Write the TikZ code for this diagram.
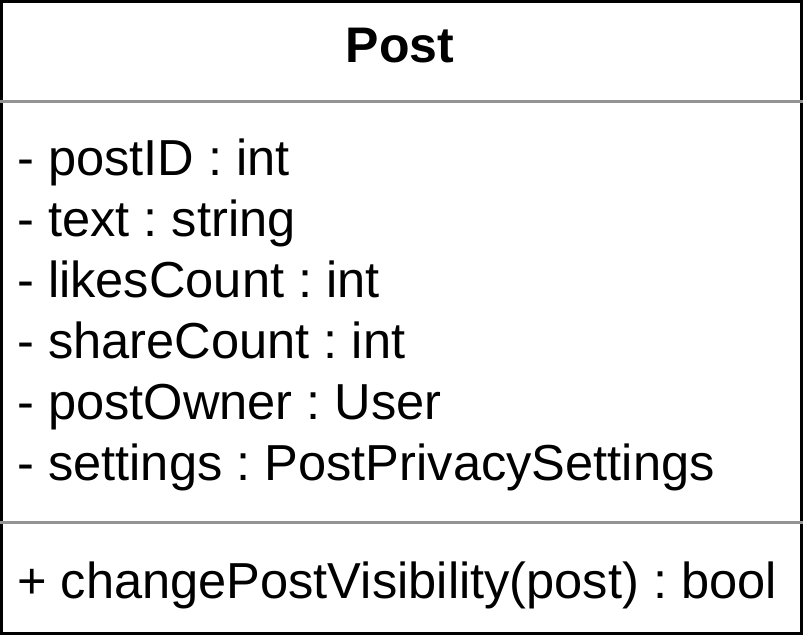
\documentclass[tikz,border=0pt]{standalone}
\usepackage{fontspec}
\setmainfont{Liberation Sans}
\usepackage{tikz}
\usetikzlibrary{positioning}
\frenchspacing

\tikzset{
  classbox/.style={draw=black, line width=3pt},
  divider/.style={draw=black!42, line width=3pt},
  title/.style={anchor=base, inner sep=0pt, font=\fontsize{50}{60}\selectfont\bfseries},
  member/.style={anchor=base west, inner sep=0pt, font=\fontsize{50.6}{60}\selectfont}
}

\begin{document}
\begin{tikzpicture}[x=1pt,y=-1pt]
            \useasboundingbox (0,0) rectangle (803,635);
            \draw[classbox] (1.5,1.5) rectangle (801.5,633.5);
            \coordinate (d1l) at (0,101.5);
            \coordinate (d1r) at (803,101.5);
            \coordinate (d2l) at (0,522.5);
            \coordinate (d2r) at (803,522.5);
            \draw[divider] (d1l)--(d1r);
            \draw[divider] (d2l)--(d2r);

            \node[title] (name) at (400,62) {Post};

            \node[member] (postid) at (17,175) {- postID : int};
            \node[member] (text) at (17,236) {- text : string};
            \node[member] (likes) at (17,297) {- likesCount : int};
            \node[member] (share) at (17,358) {- shareCount : int};
            \node[member] (owner) at (17,419) {- postOwner : User};
            \node[member] (settings) at (17,480) {- settings : PostPrivacySettings};

            \node[member] (visibility) at (17,598) {+ changePostVisibility(post) : bool};
        \end{tikzpicture}
\end{document}
